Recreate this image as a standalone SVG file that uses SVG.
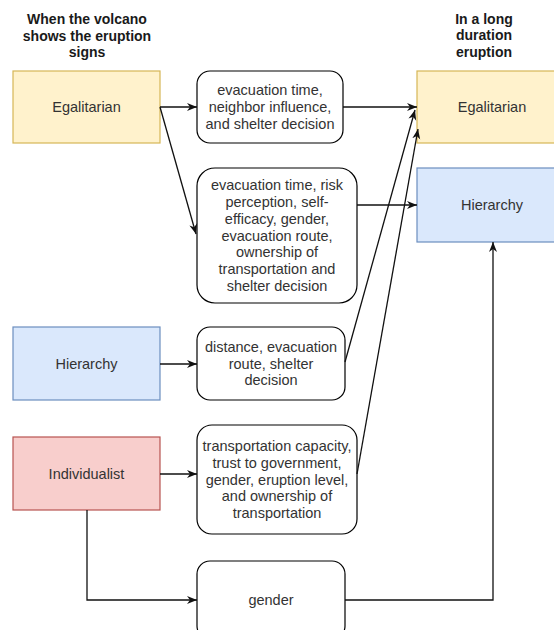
<svg xmlns="http://www.w3.org/2000/svg" width="554" height="630" viewBox="0 0 554 630">
<style>
.t{font-family:"Liberation Sans",Arial,sans-serif;font-size:14.5px;fill:#333;text-anchor:middle}
.h{font-family:"Liberation Sans",Arial,sans-serif;font-size:14px;font-weight:bold;fill:#1a1a1a;text-anchor:middle}
.r{fill:#fff;stroke:#000;stroke-width:1.2}
.eg{fill:#fff2cc;stroke:#d6b656;stroke-width:1.2}
.hi{fill:#dae8fc;stroke:#6c8ebf;stroke-width:1.2}
.in{fill:#f8cecc;stroke:#b85450;stroke-width:1.2}
.c{fill:none;stroke:#111;stroke-width:1.3;marker-end:url(#a)}
</style>
<defs>
<marker id="a" viewBox="0 0 10 10" refX="10" refY="5" markerWidth="10" markerHeight="10" markerUnits="userSpaceOnUse" orient="auto">
<path d="M0,1 L10,5 L0,9 L3,5 z" fill="#111"/>
</marker>
</defs>
<rect width="554" height="630" fill="#fff"/>
<g id="title-left">
<text class="h" x="87" y="24">When the volcano</text>
<text class="h" x="87" y="40.5">shows the eruption</text>
<text class="h" x="87" y="57">signs</text>
</g>
<g id="title-right">
<text class="h" x="484" y="24">In a long</text>
<text class="h" x="484" y="40">duration</text>
<text class="h" x="484" y="56.5">eruption</text>
</g>
<g id="egal-left"><rect class="eg" x="13" y="71" width="147" height="72"/><text class="t" x="86.5" y="112">Egalitarian</text></g>
<g id="hier-left"><rect class="hi" x="13" y="327" width="147" height="73"/><text class="t" x="86.5" y="369">Hierarchy</text></g>
<g id="indiv-left"><rect class="in" x="13" y="437" width="147" height="73"/><text class="t" x="86.5" y="479">Individualist</text></g>
<g id="box1"><rect class="r" x="197" y="71" width="146" height="72" rx="13"/>
<text class="t" x="270" y="95.3">evacuation time,</text>
<text class="t" x="270" y="112">neighbor influence,</text>
<text class="t" x="270" y="128.7">and shelter decision</text></g>
<g id="box2"><rect class="r" x="197" y="168" width="160" height="135" rx="18"/>
<text class="t" x="277" y="190.4">evacuation time, risk</text>
<text class="t" x="277" y="207.1">perception, self-</text>
<text class="t" x="277" y="223.8">efficacy, gender,</text>
<text class="t" x="277" y="240.5">evacuation route,</text>
<text class="t" x="277" y="257.2">ownership of</text>
<text class="t" x="277" y="273.9">transportation and</text>
<text class="t" x="277" y="290.6">shelter decision</text></g>
<g id="box3"><rect class="r" x="197" y="327" width="148" height="73" rx="13"/>
<text class="t" x="271" y="352">distance, evacuation</text>
<text class="t" x="271" y="368.7">route, shelter</text>
<text class="t" x="271" y="385.4">decision</text></g>
<g id="box4"><rect class="r" x="197" y="425" width="160" height="109" rx="15"/>
<text class="t" x="277" y="451">transportation capacity,</text>
<text class="t" x="277" y="467.8">trust to government,</text>
<text class="t" x="277" y="484.5">gender, eruption level,</text>
<text class="t" x="277" y="501.2">and ownership of</text>
<text class="t" x="277" y="517.9">transportation</text></g>
<g id="gender"><rect class="r" x="197" y="561" width="148" height="78" rx="13"/><text class="t" x="271" y="605">gender</text></g>
<g id="egal-right"><rect class="eg" x="417" y="71" width="150" height="72"/><text class="t" x="492" y="112">Egalitarian</text></g>
<g id="hier-right"><rect class="hi" x="417" y="168" width="150" height="74"/><text class="t" x="492" y="210">Hierarchy</text></g>
<g id="connectors">
<path class="c" d="M160,107 L197,107"/>
<path class="c" d="M160,107 L196,234"/>
<path class="c" d="M343,107 L417,107"/>
<path class="c" d="M357,205 L417,205"/>
<path class="c" d="M345,362 L415,110"/>
<path class="c" d="M357,474 L418,129"/>
<path class="c" d="M160,364 L197,364"/>
<path class="c" d="M160,474 L197,474"/>
<path class="c" d="M87,510 L87,600 L197,600"/>
<path class="c" d="M345,600 L493,600 L493,242"/>
</g>
</svg>
